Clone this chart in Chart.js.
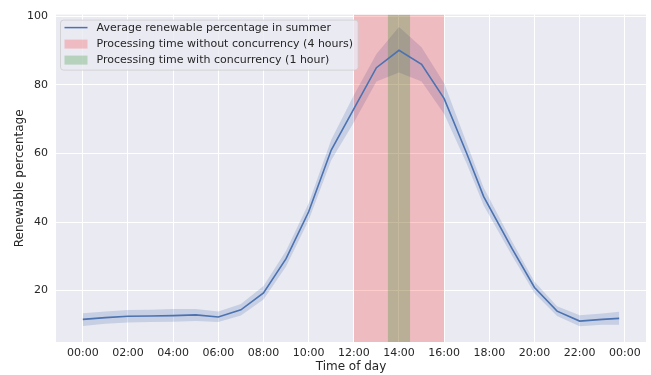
<!DOCTYPE html>
<html>
<head>
<meta charset="utf-8">
<script src="https://cdn.jsdelivr.net/npm/chart.js@4/dist/chart.umd.min.js"></script>
<style>
  html, body { margin: 0; padding: 0; background: #ffffff; }
  #wrap { width: 651px; height: 375px; position: relative; }
</style>
</head>
<body>
<div id="wrap"><canvas id="c" width="651" height="375"></canvas></div>
<script>
// ---- data (hour of day) ----
const hours = [0,1,2,3,4,5,6,7,8,9,10,11,12,13,14,15,16,17,17.75,19,20,21,22,23,23.75];
const meanPct = [11.6,12.1,12.5,12.6,12.7,12.9,12.3,14.4,19.3,29.3,43.0,61.0,73.0,85.0,90.1,86.0,76.0,60.0,47.4,32.3,20.9,14.0,11.1,11.6,11.9];
const lowerPct = [9.7,10.3,10.7,10.8,10.9,11.1,10.8,12.7,17.4,27.0,40.5,58.0,69.0,81.0,83.6,81.0,71.5,57.0,44.8,30.2,19.2,12.6,9.6,10.0,10.0];
const upperPct = [13.4,13.9,14.3,14.4,14.6,14.6,13.9,16.1,21.3,31.6,45.5,64.0,77.0,89.0,96.9,91.0,80.5,63.0,50.0,34.4,22.6,15.4,12.8,13.3,13.8];
const xTickHours = [0,2,4,6,8,10,12,14,16,18,20,22,24];
const yTickValues = [20,40,60,80,100];
const spanNoConcurrency = [12, 16];
const spanConcurrency = [13.5, 14.5];
const legendLabels = [
  'Average renewable percentage in summer',
  'Processing time without concurrency (4 hours)',
  'Processing time with concurrency (1 hour)'
];
const xMin = -1.1875, xMax = 24.9375;
const yMin = 5.0, yMax = 100.5;

// ---- styles ----
const FONT = 'DejaVu Sans';
const lineColor = '#4C72B0';
const bandColor = 'rgba(76,114,176,0.22)';
const redColor = 'rgba(255,0,0,0.2)';
const greenColor = 'rgba(0,128,0,0.22)';

function pts(xs, ys) { return xs.map((x, i) => ({x: x, y: ys[i]})); }
function spanPts(span) { return span.map(x => ({x: x, y: yMax})); }
function fmtHour(v) { const h = ((v % 24) + 24) % 24; return (h < 10 ? '0' : '') + h + ':00'; }

const legendPlugin = {
  id: 'boxLegend',
  afterDatasetsDraw(chart) {
    const ctx = chart.ctx, a = chart.chartArea;
    ctx.save();
    ctx.font = '11px "' + FONT + '"';
    const maxW = Math.max(...legendLabels.map(t => ctx.measureText(t).width));
    const left = a.left + 4.5, top = a.top + 5.5;
    const textX = left + 36;
    const w = textX - left + maxW + 5, h = 50;
    const r = 3;
    ctx.beginPath();
    ctx.moveTo(left + r, top);
    ctx.arcTo(left + w, top, left + w, top + h, r);
    ctx.arcTo(left + w, top + h, left, top + h, r);
    ctx.arcTo(left, top + h, left, top, r);
    ctx.arcTo(left, top, left + w, top, r);
    ctx.closePath();
    ctx.fillStyle = 'rgba(234,234,242,0.8)';
    ctx.fill();
    ctx.strokeStyle = 'rgba(204,204,204,0.8)';
    ctx.lineWidth = 1;
    ctx.stroke();
    const rowY = [top + 7.5, top + 24, top + 40];
    ctx.strokeStyle = lineColor; ctx.lineWidth = 1.5;
    ctx.beginPath(); ctx.moveTo(left + 4, rowY[0]); ctx.lineTo(left + 27, rowY[0]); ctx.stroke();
    ctx.fillStyle = redColor; ctx.fillRect(left + 4, rowY[1] - 4.5, 23, 9);
    ctx.fillStyle = greenColor; ctx.fillRect(left + 4, rowY[2] - 4.5, 23, 9);
    ctx.fillStyle = '#262626';
    ctx.textBaseline = 'middle';
    legendLabels.forEach((t, i) => ctx.fillText(t, textX, rowY[i] + 0.5));
    ctx.restore();
  }
};

const bgPlugin = {
  id: 'axesBg',
  beforeDraw(chart) {
    const ctx = chart.ctx, a = chart.chartArea;
    ctx.save();
    ctx.fillStyle = '#EAEAF2';
    ctx.fillRect(a.left, a.top, a.right - a.left, a.bottom - a.top);
    ctx.restore();
  }
};

new Chart(document.getElementById('c'), {
  type: 'line',
  data: {
    datasets: [
      { label: 'upper', data: pts(hours, upperPct), borderWidth: 0, pointRadius: 0, fill: '+1', backgroundColor: bandColor, order: 3, tension: 0 },
      { label: 'lower', data: pts(hours, lowerPct), borderWidth: 0, pointRadius: 0, fill: false, order: 3, tension: 0 },
      { label: legendLabels[1], data: spanPts(spanNoConcurrency), borderWidth: 0, pointRadius: 0, fill: 'start', backgroundColor: redColor, order: 2 },
      { label: legendLabels[2], data: spanPts(spanConcurrency), borderWidth: 0, pointRadius: 0, fill: 'start', backgroundColor: greenColor, order: 1 },
      { label: legendLabels[0], data: pts(hours, meanPct), borderColor: lineColor, borderWidth: 1.6, pointRadius: 0, fill: false, order: 0, tension: 0 }
    ]
  },
  options: {
    responsive: false,
    animation: false,
    layout: { padding: { top: 13, right: 5, left: 0, bottom: 0 } },
    plugins: { legend: { display: false }, tooltip: { enabled: false } },
    scales: {
      x: {
        type: 'linear', min: xMin, max: xMax,
        afterBuildTicks(s) { s.ticks = xTickHours.map(v => ({value: v})); },
        afterFit(s) { s.height = 33; },
        grid: { color: '#ffffff', lineWidth: 1, drawTicks: false },
        border: { display: false },
        ticks: { padding: 5, color: '#262626', font: { family: FONT, size: 11 }, maxRotation: 0, autoSkip: false, callback: v => fmtHour(v) },
        title: { display: true, text: 'Time of day', color: '#262626', font: { family: FONT, size: 12 }, padding: { top: 0, bottom: 1 } }
      },
      y: {
        type: 'linear', min: yMin, max: yMax,
        afterBuildTicks(s) { s.ticks = yTickValues.map(v => ({value: v})); },
        afterFit(s) { s.width = 56; },
        grid: { color: '#ffffff', lineWidth: 1, drawTicks: false },
        border: { display: false },
        ticks: { padding: 8, color: '#262626', font: { family: FONT, size: 11 }, callback: v => String(v) },
        title: { display: true, text: 'Renewable percentage', color: '#262626', font: { family: FONT, size: 12 }, padding: { top: 13, bottom: 0 } }
      }
    }
  },
  plugins: [bgPlugin, legendPlugin]
});
</script>
</body>
</html>
